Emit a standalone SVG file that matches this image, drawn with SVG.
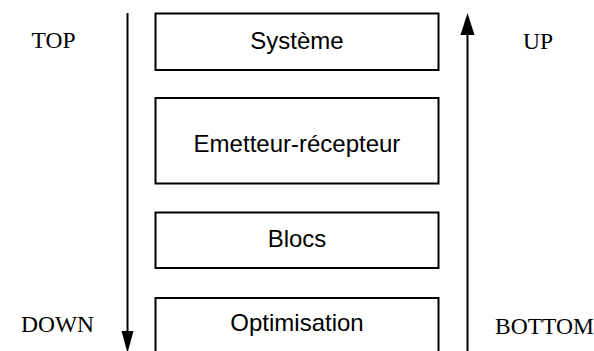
<svg xmlns="http://www.w3.org/2000/svg" width="594" height="351" viewBox="0 0 594 351">
<style>
.box{fill:#fff;stroke:#000;stroke-width:2}
.lbl{font-family:"Liberation Sans",Arial,sans-serif;font-size:24px;text-anchor:middle;fill:#000}
.side{font-family:"Liberation Serif","Times New Roman",serif;font-size:23.5px;fill:#000}
.arr{stroke:#000;stroke-width:2;fill:none}
</style>
<g id="connectors">
<line class="arr" x1="127.5" y1="13" x2="127.5" y2="334"/>
<polygon points="121.5,331 133.5,331 127.5,353" fill="#000"/>
<line class="arr" x1="467.5" y1="33" x2="467.5" y2="351"/>
<polygon points="460.5,35 474.5,35 467.5,13" fill="#000"/>
</g>
<g id="systeme"><rect class="box" x="155.5" y="13.5" width="283" height="56.5"/><text class="lbl" x="297" y="49">Système</text></g>
<g id="emetteur"><rect class="box" x="155.5" y="98" width="283" height="85.5"/><text class="lbl" x="297" y="152">Emetteur-récepteur</text></g>
<g id="blocs"><rect class="box" x="155.5" y="212.5" width="283" height="55.5"/><text class="lbl" x="297" y="247">Blocs</text></g>
<g id="optimisation"><rect class="box" x="155.5" y="298" width="283" height="60"/><text class="lbl" x="297" y="331">Optimisation</text></g>
<text class="side" x="31.5" y="48">TOP</text>
<text class="side" x="523" y="49">UP</text>
<text class="side" x="21" y="332">DOWN</text>
<text class="side" x="495" y="334">BOTTOM</text>
</svg>
